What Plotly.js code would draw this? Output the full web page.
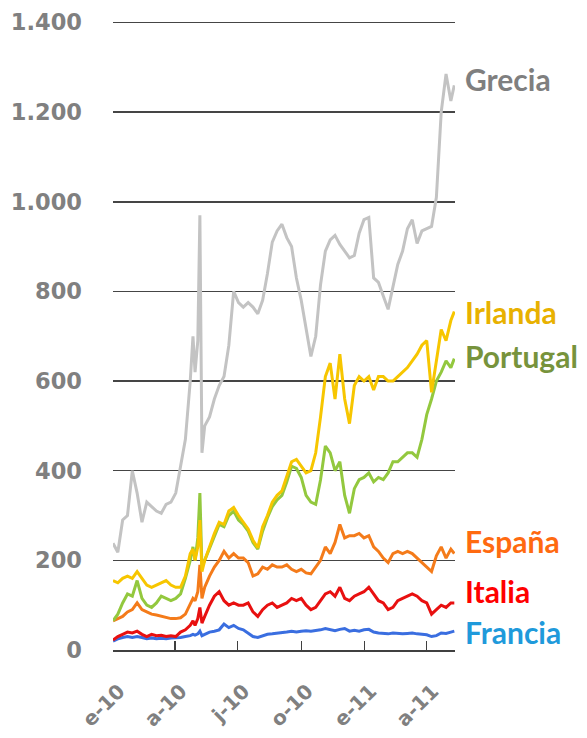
<!DOCTYPE html>
<html>
<head>
<meta charset="utf-8">
<script src="https://cdn.plot.ly/plotly-3.0.1.min.js"></script>
<style>html,body{margin:0;padding:0;background:#fff;}#chart{width:587px;height:738px;}</style>
</head>
<body>
<div id="chart"></div>
<script>
// Dates (weekly, with extra points around early May 2010)
const dates = [
 '2010-01-01','2010-01-08','2010-01-15','2010-01-22','2010-01-29',
 '2010-02-05','2010-02-12','2010-02-19','2010-02-26',
 '2010-03-05','2010-03-12','2010-03-19','2010-03-26',
 '2010-04-02','2010-04-09','2010-04-16','2010-04-23','2010-04-27','2010-04-30',
 '2010-05-04','2010-05-07','2010-05-10','2010-05-14','2010-05-21','2010-05-28',
 '2010-06-04','2010-06-11','2010-06-18','2010-06-25',
 '2010-07-02','2010-07-09','2010-07-16','2010-07-23','2010-07-30',
 '2010-08-06','2010-08-13','2010-08-20','2010-08-27',
 '2010-09-03','2010-09-10','2010-09-17','2010-09-24',
 '2010-10-01','2010-10-08','2010-10-15','2010-10-22','2010-10-29',
 '2010-11-05','2010-11-12','2010-11-19','2010-11-26',
 '2010-12-03','2010-12-10','2010-12-17','2010-12-24','2010-12-31',
 '2011-01-07','2011-01-14','2011-01-21','2011-01-28',
 '2011-02-04','2011-02-11','2011-02-18','2011-02-25',
 '2011-03-04','2011-03-11','2011-03-18','2011-03-25',
 '2011-04-01','2011-04-08','2011-04-15','2011-04-22','2011-04-29',
 '2011-05-06','2011-05-11'
];

const grecia = [238,218,290,300,400,350,285,330,320,310,305,325,330,
 350,410,470,600,700,620,
 690,970,440,500,520,560,
 590,610,680,800,
 775,765,775,765,750,
 780,840,910,935,
 950,920,900,830,
 780,715,655,700,815,
 890,915,925,905,
 890,875,880,930,960,
 965,830,820,790,
 760,810,860,890,
 940,960,907,935,
 940,945,1010,1200,1285,
 1225,1260];

const irlanda = [155,150,160,165,160,175,160,145,140,145,150,155,145,
 140,140,165,215,225,200,
 230,290,175,200,230,260,
 285,280,310,318,
 300,285,270,245,228,
 275,300,330,345,
 355,390,420,425,
 410,395,400,440,520,
 610,640,560,660,
 560,505,590,610,600,
 610,580,610,610,
 600,600,610,620,
 630,645,660,680,
 690,575,640,715,690,
 735,755];

const portugal = [65,80,105,125,120,155,115,100,95,105,120,115,110,
 115,125,160,200,230,200,
 250,350,185,200,230,255,
 280,275,300,310,
 290,280,265,240,225,
 265,295,320,335,
 345,375,410,405,
 385,345,330,325,380,
 455,440,400,420,
 345,305,360,380,385,
 395,375,385,380,
 395,420,420,430,
 440,440,430,470,
 525,560,600,620,645,
 630,650];

const espana = [65,70,75,85,90,105,90,85,80,78,75,72,70,
 70,72,80,105,115,110,
 130,190,115,140,165,185,
 200,220,205,215,
 205,205,195,165,170,
 185,180,190,185,
 185,190,180,175,
 180,172,170,185,200,
 230,215,240,280,
 250,255,255,260,250,
 255,230,220,205,
 195,215,220,215,
 220,215,205,195,
 185,175,210,230,205,
 225,215];

const italia = [22,30,35,40,38,42,35,30,35,32,33,30,32,
 30,40,45,55,65,55,
 70,95,60,75,100,120,
 130,110,100,105,
 100,100,105,85,75,
 90,100,105,95,
 100,105,115,110,
 115,100,90,95,110,
 125,130,120,140,
 115,110,120,125,130,
 140,125,110,105,
 90,95,110,115,
 120,125,120,110,
 105,80,90,100,95,
 105,105];

const francia = [20,25,28,30,28,30,28,25,27,25,26,25,27,
 27,28,30,32,35,33,
 36,42,32,35,40,42,
 45,58,50,55,
 48,45,38,30,28,
 32,35,36,37,
 38,40,42,40,
 42,43,42,43,45,
 48,45,43,46,
 48,42,44,42,45,
 46,40,38,37,
 36,38,37,36,
 37,38,36,35,
 34,30,32,38,37,
 40,42];

const tickDates = ['2010-01-01','2010-04-01','2010-07-01','2010-10-01','2011-01-01','2011-04-01'];
const tickLabels = ['e-10','a-10','j-10','o-10','e-11','a-11'];
const yTicks = [0,200,400,600,800,1000,1200,1400];

const seriesNames = ['Grecia','Francia','Italia','España','Portugal','Irlanda'];
const seriesData = [grecia, francia, italia, espana, portugal, irlanda];
const lineColors = ['#C3C3C3','#3A6EE0','#E81010','#F47B1A','#93C83E','#F7C600'];
const labelColors = {'Grecia':'#7F7F7F','Irlanda':'#E8B100','Portugal':'#77933C','España':'#FF6A10','Italia':'#FF0000','Francia':'#1F9ADB'};
const labelY = {'Grecia':1273,'Irlanda':753,'Portugal':655,'España':243,'Italia':131,'Francia':40};

const traces = seriesNames.map((n,i)=>({
  x: dates, y: seriesData[i], type:'scatter', mode:'lines', name:n,
  line:{color: lineColors[i], width:3}
}));

const annotations = Object.keys(labelY).map(n=>({
  xref:'paper', yref:'y', x:1.022, y:labelY[n], xanchor:'left', yanchor:'middle',
  text:n, showarrow:false,
  font:{family:'Lato, "Open Sans", sans-serif', size:30, weight:700, color:labelColors[n]}
}));

const layout = {
  width:587, height:738,
  margin:{l:113, r:132, t:18, b:88},
  paper_bgcolor:'#fff', plot_bgcolor:'#fff',
  showlegend:false,
  separators:',.',
  xaxis:{
    type:'date', range:['2010-01-01','2011-05-12'],
    tickmode:'array', tickvals:tickDates, ticktext:tickLabels,
    tickangle:-45, ticks:'inside', ticklen:9, tickwidth:1.3, tickcolor:'#404040',
    showline:true, linecolor:'#404040', linewidth:1.5,
    showgrid:false, zeroline:false,
    ticklabelstandoff:20, ticklabelshift:6,
    tickfont:{family:'DejaVu Sans', size:20, weight:700, color:'#808080'}
  },
  yaxis:{
    range:[0,1410], tickmode:'array', tickvals:yTicks, tickformat:',d',
    showgrid:true, gridcolor:'#454545', gridwidth:1.5,
    zeroline:false, showline:false, ticks:'',
    ticklabelstandoff:30,
    tickfont:{family:'DejaVu Sans', size:22.5, weight:700, color:'#808080'}
  },
  annotations: annotations
};

Plotly.newPlot('chart', traces, layout, {staticPlot:true, displayModeBar:false});
</script>
</body>
</html>
